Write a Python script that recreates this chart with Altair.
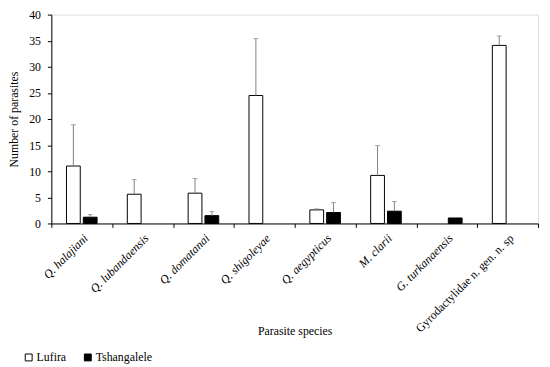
import altair as alt
import pandas as pd

species = ["Q. halajiani", "Q. lubandaensis", "Q. domatanai", "Q. shigoleyae",
           "Q. aegypticus", "M. clarii", "G. turkanaensis", "Gyrodactylidae n. gen. n. sp"]
series_names = ["Lufira", "Tshangalele"]
lufira_mean = [11.0, 5.6, 5.8, 24.5, 2.6, 9.2, None, 34.1]
lufira_upper = [18.9, 8.4, 8.6, 35.4, 2.8, 14.9, None, 35.9]
tsh_mean = [1.2, None, 1.5, None, 2.1, 2.35, 1.05, None]
tsh_upper = [1.7, None, 2.3, None, 4.0, 4.2, None, None]

rows = []
for name, means, uppers in [("Lufira", lufira_mean, lufira_upper),
                            ("Tshangalele", tsh_mean, tsh_upper)]:
    for sp, m, u in zip(species, means, uppers):
        if m is not None:
            rows.append({"species": sp, "series": name, "mean": m, "upper": u})
df = pd.DataFrame(rows)
err = df.dropna(subset=["upper"])

FONT = "Liberation Serif"
FS = 12

x_axis = alt.Axis(title="Parasite species", labelAngle=-45, labelAlign="right",
                  labelBaseline="top", tickBand="extent", tickSize=4,
                  labelPadding=5, labelFontSize=FS, labelFont=FONT,
                  labelFontStyle={"condition": {"test": "datum.value === 'Gyrodactylidae n. gen. n. sp'",
                                                "value": "normal"}, "value": "italic"},
                  titleFont=FONT, titleFontSize=FS, titleFontWeight="normal",
                  titleBaseline="middle", titleY=109,
                  domainColor="black", tickColor="black", labelColor="black",
                  titleColor="black", labelOverlap=False, labelLimit=300)
y_axis = alt.Axis(title="Number of parasites", values=list(range(0, 45, 5)),
                  tickSize=4, labelPadding=7, labelFont=FONT, labelFontSize=FS,
                  labelOverlap=False,
                  titleFont=FONT, titleFontSize=FS, titleFontWeight="normal",
                  titleX=-31, grid=False,
                  domainColor="black", tickColor="black", labelColor="black",
                  titleColor="black")

x = alt.X("species:N", sort=species, scale=alt.Scale(paddingInner=0, paddingOuter=0), axis=x_axis)
xoff = alt.XOffset("series:N", sort=series_names,
                   scale=alt.Scale(domain=series_names, paddingInner=0.18, paddingOuter=0.9))
yscale = alt.Scale(domain=[0, 40], nice=False)

bars = alt.Chart(df).mark_bar(stroke="black", strokeWidth=1).encode(
    x=x,
    xOffset=xoff,
    y=alt.Y("mean:Q", scale=yscale, axis=y_axis),
    fill=alt.Fill("series:N", sort=series_names,
                  scale=alt.Scale(domain=series_names, range=["white", "black"]),
                  legend=alt.Legend(title=None, orient="none", legendX=-29, legendY=342,
                                    direction="horizontal", symbolType="square",
                                    symbolSize=49, symbolStrokeColor="black",
                                    symbolStrokeWidth=1, labelFont=FONT, labelFontSize=FS,
                                    labelColor="black", labelOffset=2, columnPadding=16)),
)

rules = alt.Chart(err).mark_rule(color="#808080", strokeWidth=1).encode(
    x=alt.X("species:N", sort=species, axis=x_axis),
    xOffset=alt.XOffset("series:N", sort=series_names),
    y=alt.Y("mean:Q", scale=yscale, axis=y_axis),
    y2="upper:Q",
)
caps = alt.Chart(err).mark_tick(color="#808080", thickness=1, size=5, orient="horizontal").encode(
    x=alt.X("species:N", sort=species, axis=x_axis),
    xOffset=alt.XOffset("series:N", sort=series_names),
    y=alt.Y("upper:Q", scale=yscale, axis=y_axis),
)

chart = alt.layer(bars, rules, caps).properties(
    width=494, height=212,
    padding={"left": 44, "top": 4, "right": 4, "bottom": 143},
    autosize=alt.AutoSizeParams(type="none"),
).configure_view(stroke=None).configure(font=FONT)

chart.save("out.html", embed_options={"renderer": "svg", "actions": False})
